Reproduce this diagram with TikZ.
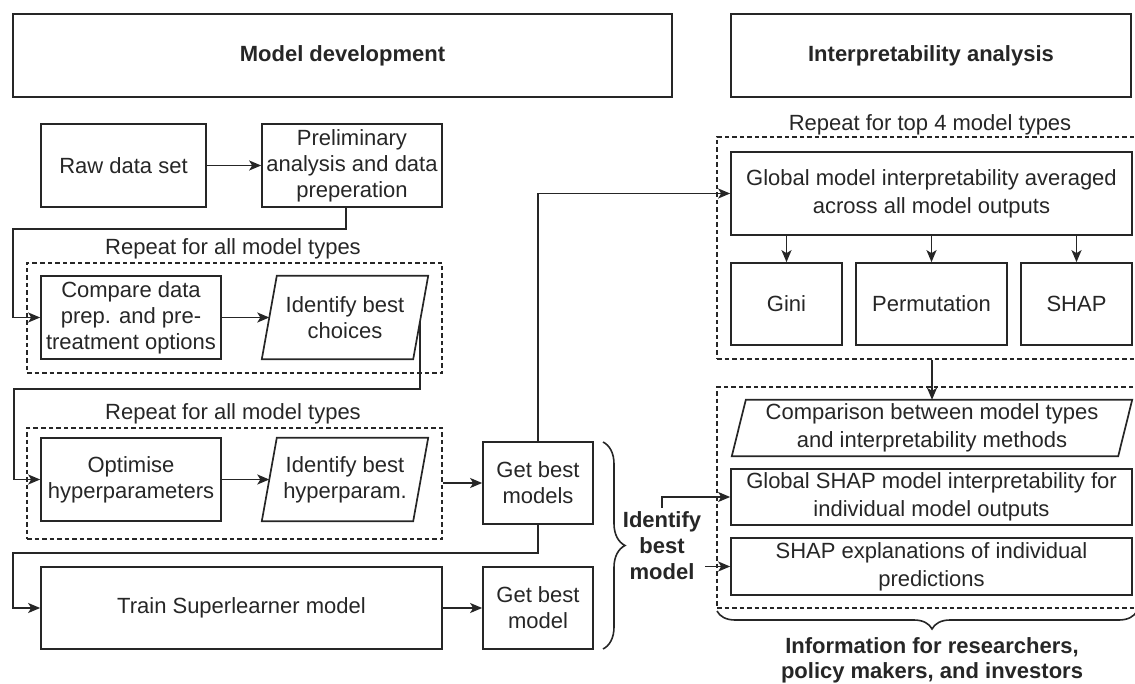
\documentclass[tikz,border=0pt]{standalone}
\usepackage{fontspec}
\setmainfont{Liberation Sans}
\usetikzlibrary{arrows.meta,decorations.pathreplacing,calc}
\newcommand{\myfs}{\fontsize{22}{26}\selectfont}
\newcommand{\myfsw}{\fontsize{22}{28}\selectfont}
\begin{document}
\begin{tikzpicture}[x=1pt,y=-1pt,
  every node/.style={font=\myfs, text=black!85, align=center, inner sep=0pt},
  box/.style={draw=black!85, line width=1.7pt, rectangle},
  wide/.style={font=\myfsw},
  bold/.style={font=\myfs\bfseries},
  dbox/.style={draw=black!85, line width=1.5pt, dash pattern=on 4.5pt off 3pt},
  para/.style={draw=black!85, line width=1.7pt},
  arr/.style={draw=black!85, line width=1.7pt, -{Stealth[length=12pt,width=10pt,inset=3pt]}},
  bracestyle/.style={draw=black!85, line width=1.6pt, decorate},
]
\useasboundingbox (0,0) rectangle (1135,684);

% headers
\node[box, bold, minimum width=659pt, minimum height=83pt] (hdr1) at (342.5,55.5) {Model development};
\node[box, bold, minimum width=400pt, minimum height=83pt] (hdr2) at (931,55.5) {Interpretability analysis};

% dashed groups
\node[dbox, minimum width=415pt, minimum height=110pt] (d1) at (234.5,318) {};
\node[dbox, minimum width=415pt, minimum height=111pt] (d2) at (234.5,483.5) {};
\node[dbox, minimum width=420pt, minimum height=222pt] (d3) at (927,248) {};
\node[dbox, minimum width=420pt, minimum height=221pt] (d4) at (927,497.5) {};

\node (l1) at (233,249) {Repeat for all model types};
\node (l2) at (233,414) {Repeat for all model types};
\node (l3) at (930,125) {Repeat for top 4 model types};

% model development
\node[box, minimum width=165pt, minimum height=83pt] (raw) at (123.5,165.5) {Raw data set};
\node[box, minimum width=180pt, minimum height=83pt] (prelim) at (352,165.5) {Preliminary\\analysis and data\\preperation};
\node[box, minimum width=180pt, minimum height=83pt] (cmp) at (131,317.5) {Compare data\\prep. and pre-\\treatment options};
\node[minimum width=151pt, minimum height=83pt] (idc) at (345,317.5) {Identify best\\choices};
\draw[para] ([xshift=7.5pt]idc.north west) -- ([xshift=7.5pt]idc.north east) -- ([xshift=-7.5pt]idc.south east) -- ([xshift=-7.5pt]idc.south west) -- cycle;
\node[box, minimum width=180pt, minimum height=83pt] (opt) at (131,479.5) {Optimise\\hyperparameters};
\node[minimum width=151pt, minimum height=83pt] (idh) at (345,479.5) {Identify best\\hyperparam.};
\draw[para] ([xshift=7.5pt]idh.north west) -- ([xshift=7.5pt]idh.north east) -- ([xshift=-7.5pt]idh.south east) -- ([xshift=-7.5pt]idh.south west) -- cycle;
\node[box, minimum width=110pt, minimum height=82pt] (gbm) at (538,483) {Get best\\models};
\node[box, minimum width=401pt, minimum height=82pt] (train) at (241.5,608) {Train Superlearner model};
\node[box, minimum width=110pt, minimum height=82pt] (gb1) at (538,608) {Get best\\model};
\node[bold, inner sep=4pt] (ibm) at (662,546) {Identify\\best\\model};

% interpretability
\node[box, wide, minimum width=401pt, minimum height=83pt] (glob) at (931.5,193.5) {Global model interpretability averaged\\across all model outputs};
\node[box, minimum width=111pt, minimum height=82pt] (gini) at (786.5,304) {Gini};
\node[box, minimum width=151pt, minimum height=82pt] (perm) at (931.5,304) {Permutation};
\node[box, minimum width=111pt, minimum height=82pt] (shap) at (1076.5,304) {SHAP};
\node[wide, minimum width=386pt, minimum height=56pt] (comp) at (932,428) {Comparison between model types\\and interpretability methods};
\draw[para] ([xshift=7pt]comp.north west) -- ([xshift=7pt]comp.north east) -- ([xshift=-7pt]comp.south east) -- ([xshift=-7pt]comp.south west) -- cycle;
\node[box, wide, minimum width=401pt, minimum height=56pt] (gshap) at (931.5,497) {Global SHAP model interpretability for\\individual model outputs};
\node[box, wide, minimum width=401pt, minimum height=57pt] (shapx) at (931.5,566.5) {SHAP explanations of individual\\predictions};
\node[font=\fontsize{22}{25}\selectfont\bfseries] (info) at (932,660) {Information for researchers,\\policy makers, and investors};

% connectors
\coordinate (idcout) at (420,322);
\coordinate (w2) at (14,389);
\draw[arr] (raw.east) -- (prelim.west);
\draw[arr] ([xshift=-6pt]prelim.south) -- ++(0,21) -| ([xshift=-27pt]cmp.west) -- (cmp.west);
\draw[arr] (cmp.east) -- (idc.west);
\draw[arr] (idcout) |- (w2) |- (opt.west);
\draw[arr] (opt.east) -- (idh.west);
\draw[arr] (d2.east |- gbm.west) -- (gbm.west);
\draw[arr] (gbm.north) |- (glob.west);
\draw[arr] (gbm.south) -- ++(0,28) -| ([xshift=-27pt]train.west) -- (train.west);
\draw[arr] (train.east) -- (gb1.west);
\draw[arr] (ibm.north) |- (gshap.west);
\draw[arr] (ibm.east |- shapx.west) -- (shapx.west);
\draw[arr] (gini.north |- glob.south) -- (gini.north);
\draw[arr] (perm.north |- glob.south) -- (perm.north);
\draw[arr] (shap.north |- glob.south) -- (shap.north);
\draw[arr] (comp.north |- d3.south) -- (comp.north);

% braces
\draw[bracestyle, decoration={brace, amplitude=22pt}] (603,442) -- (603,649);
\draw[bracestyle, decoration={brace, amplitude=18pt, aspect=0.488}] (1137,611) -- (717,611);
\end{tikzpicture}
\end{document}
